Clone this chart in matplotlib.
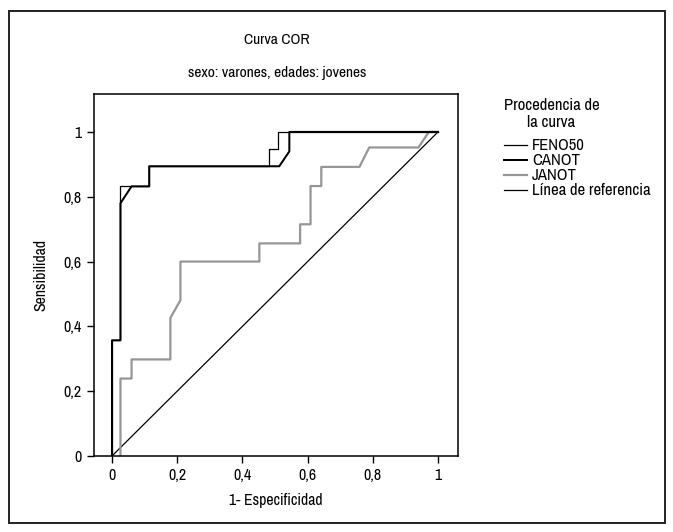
import matplotlib
matplotlib.use("Agg")
import matplotlib.pyplot as plt
from matplotlib.patches import Rectangle
from matplotlib import font_manager

# pick a narrow / condensed sans font if one is installed
fam, stretch = 'Liberation Sans', 'normal'
for f in font_manager.fontManager.ttflist:
    if ('Narrow' in f.name or 'Condensed' in f.name) and f.style == 'normal':
        fam, stretch = f.name, f.stretch
        break
else:
    for f in font_manager.fontManager.ttflist:
        if str(f.stretch) in ('condensed', 'semi-condensed', '75', '87.5') and f.style == 'normal':
            fam, stretch = f.name, f.stretch
            break
plt.rcParams['font.family'] = [fam, 'Liberation Sans', 'DejaVu Sans']
plt.rcParams['font.stretch'] = stretch
narrow = fam != 'Liberation Sans'

# Data
feno50_x = [0, 0, 0.026, 0.026, 0.114, 0.114, 0.482, 0.482, 0.510, 0.510, 1.0]
feno50_y = [0, 0.357, 0.357, 0.832, 0.832, 0.894, 0.894, 0.948, 0.948, 1.0, 1.0]

canot_x = [0, 0, 0.026, 0.026, 0.060, 0.114, 0.114, 0.513, 0.544, 0.544, 1.0]
canot_y = [0, 0.357, 0.357, 0.780, 0.832, 0.832, 0.894, 0.894, 0.940, 1.0, 1.0]

janot_x = [0.026, 0.026, 0.060, 0.060, 0.179, 0.179, 0.210, 0.210, 0.452, 0.452,
           0.577, 0.577, 0.609, 0.609, 0.642, 0.642, 0.759, 0.789, 0.940, 0.972, 1.0]
janot_y = [0, 0.239, 0.239, 0.298, 0.298, 0.426, 0.481, 0.600, 0.600, 0.656,
           0.656, 0.715, 0.715, 0.833, 0.833, 0.892, 0.892, 0.952, 0.952, 1.0, 1.0]

ref_x = [0, 1]
ref_y = [0, 1]

ticks = [0, 0.2, 0.4, 0.6, 0.8, 1]
tick_labels = ['0', '0,2', '0,4', '0,6', '0,8', '1']

k = 1.0 if narrow else 0.85
fs_title = 11.2 * k
fs_tick = 11.5 * k
fs_label = 11.4 * k
fs_leg = 12 * k

W, H = 673, 532
fig = plt.figure(figsize=(W / 100, H / 100), dpi=100)
ax = fig.add_axes([94 / W, 1 - 456 / H, 364 / W, 362 / H])

ax.plot(canot_x, canot_y, color='black', lw=1.45, label='CANOT', zorder=3)
ax.plot(janot_x, janot_y, color='#969696', lw=1.6, label='JANOT', zorder=2)
ax.plot(feno50_x, feno50_y, color='black', lw=0.9, label='FENO50', zorder=4)
ax.plot(ref_x, ref_y, color='black', lw=0.9, label='Línea de referencia', zorder=1)

ax.set_xlim(-0.0552, 1.0613)
ax.set_ylim(0, 1.117)
ax.set_xticks(ticks)
ax.set_xticklabels(tick_labels)
ax.set_yticks(ticks)
ax.set_yticklabels(tick_labels)
ax.tick_params(direction='out', length=5, width=1, labelsize=fs_tick, pad=4)
for s in ax.spines.values():
    s.set_linewidth(1.1)

ax.set_xlabel('1- Especificidad', fontsize=fs_label, labelpad=7)
ax.set_ylabel('Sensibilidad', fontsize=fs_label, labelpad=11)

fig.text(277 / W, 1 - 40 / H, 'Curva COR', ha='center', va='center', fontsize=fs_title)
fig.text(277 / W, 1 - 73 / H, 'sexo: varones, edades: jovenes', ha='center', va='center', fontsize=fs_title)

handles, labels = ax.get_legend_handles_labels()
order = ['FENO50', 'CANOT', 'JANOT', 'Línea de referencia']
hmap = dict(zip(labels, handles))
leg = fig.legend([hmap[k2] for k2 in order], order,
                 loc='upper left', bbox_to_anchor=(492 / W, 1 - 86 / H),
                 frameon=False, fontsize=fs_leg, title='Procedencia de\nla curva',
                 title_fontsize=fs_leg, handlelength=1.4, handletextpad=0.3,
                 labelspacing=0.0, borderpad=0.2, alignment='left')
leg.get_title().set_multialignment('center')
leg._legend_box.sep = 6

fig.patches.append(Rectangle((9 / W, 1 - 523 / H), 656 / W, 512 / H,
                             transform=fig.transFigure, fill=False,
                             edgecolor='#222222', lw=1.4))

fig.savefig('out.png', dpi=100)
